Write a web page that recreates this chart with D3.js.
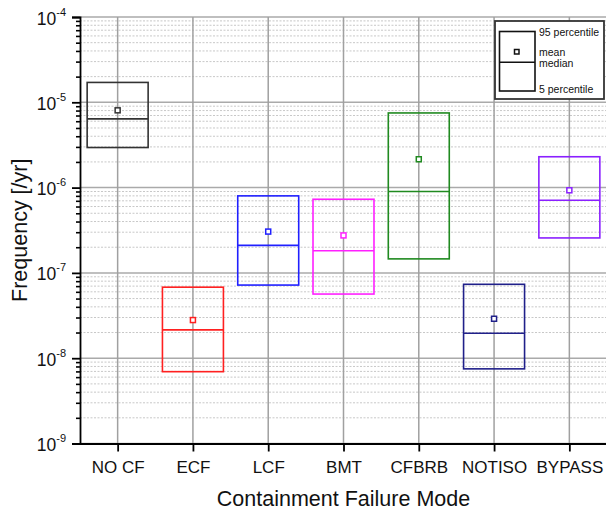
<!DOCTYPE html>
<html>
<head>
<meta charset="utf-8">
<script src="https://d3js.org/d3.v7.min.js"></script>
<style>
  body { margin: 0; background: #fff; }
  svg { display: block; font-family: 'Liberation Sans', Arial, sans-serif; }
</style>
</head>
<body>
<div id="chart"></div>
<script>
var categories = ['NO CF', 'ECF', 'LCF', 'BMT', 'CFBRB', 'NOTISO', 'BYPASS']
var p95 = [1.71e-5, 6.8e-8, 8.0e-7, 7.3e-7, 7.5e-6, 7.35e-8, 2.3e-6]
var means = [8.05e-6, 2.8e-8, 3.05e-7, 2.75e-7, 2.15e-6, 2.9e-8, 9.3e-7]
var medians = [6.4e-6, 2.15e-8, 2.1e-7, 1.82e-7, 9.0e-7, 1.96e-8, 7.1e-7]
var p5 = [2.95e-6, 6.95e-9, 7.2e-8, 5.65e-8, 1.46e-7, 7.5e-9, 2.57e-7]
var colors = ['#333333', '#ff2020', '#2020ff', '#ff20ff', '#208a20', '#20208a', '#8a20ff']
var yExponents = [-9, -8, -7, -6, -5, -4]
var legendLabels = ['95 percentile', 'mean', 'median', '5 percentile']

var W = 606, H = 511
var plotL = 80, plotR = 607, plotT = 17, plotB = 443.5

var svg = d3.select('#chart').append('svg').attr('width', W).attr('height', H)

var x = d3.scalePoint().domain(categories).range([plotL, plotR]).padding(0.5)
var y = d3.scaleLog().domain([1e-9, 1e-4]).range([plotB, plotT])

var majors = yExponents.map(e => Math.pow(10, e))
var minors = []
yExponents.slice(0, -1).forEach(e => {
    for (let k = 2; k < 10; k++) minors.push(k * Math.pow(10, e))
})

// grid
let grid = svg.append('g').attr('id', 'grid')
grid.selectAll('line.minor')
    .data(minors)
    .join('line')
    .attr('class', 'minor')
    .attr('x1', plotL).attr('x2', plotR)
    .attr('y1', d => y(d)).attr('y2', d => y(d))
    .attr('stroke', '#c8c8c8')
    .attr('stroke-width', 1)
    .attr('stroke-dasharray', '2,1.5')
grid.selectAll('line.major')
    .data(majors)
    .join('line')
    .attr('class', 'major')
    .attr('x1', plotL).attr('x2', plotR)
    .attr('y1', d => y(d)).attr('y2', d => y(d))
    .attr('stroke', '#aaaaaa')
    .attr('stroke-width', 1.5)
grid.selectAll('line.vert')
    .data(categories)
    .join('line')
    .attr('class', 'vert')
    .attr('x1', d => x(d)).attr('x2', d => x(d))
    .attr('y1', plotT).attr('y2', plotB)
    .attr('stroke', '#a0a0a0')
    .attr('stroke-width', 1.5)

// boxes
let bw = x.step() * 0.81
let boxes = svg.append('g').attr('id', 'boxes')
let data = categories.map((c, i) => ({c: c, hi: p95[i], lo: p5[i], mean: means[i], med: medians[i], col: colors[i]}))
let g = boxes.selectAll('g')
    .data(data)
    .join('g')
g.append('rect')
    .attr('x', d => x(d.c) - bw / 2)
    .attr('y', d => y(d.hi))
    .attr('width', bw)
    .attr('height', d => y(d.lo) - y(d.hi))
    .attr('fill', 'none')
    .attr('stroke', d => d.col)
    .attr('stroke-width', 1.6)
g.append('line')
    .attr('x1', d => x(d.c) - bw / 2).attr('x2', d => x(d.c) + bw / 2)
    .attr('y1', d => y(d.med)).attr('y2', d => y(d.med))
    .attr('stroke', d => d.col)
    .attr('stroke-width', 1.6)
g.append('rect')
    .attr('x', d => x(d.c) - 2.5)
    .attr('y', d => y(d.mean) - 2.5)
    .attr('width', 5).attr('height', 5)
    .attr('fill', '#fff')
    .attr('stroke', d => d.col)
    .attr('stroke-width', 1.5)

// axes
let yAxis = svg.append('g')
    .attr('transform', `translate(${plotL},0)`)
    .call(d3.axisLeft(y).tickValues(majors).tickSize(8).tickFormat(''))
yAxis.select('.domain').attr('stroke', '#000').attr('stroke-width', 1.8)
yAxis.selectAll('.tick line').attr('stroke', '#000').attr('stroke-width', 1.8)
svg.append('g')
    .attr('transform', `translate(${plotL},0)`)
    .call(d3.axisLeft(y).tickValues(minors).tickSize(4).tickFormat(''))
    .call(a => a.select('.domain').remove())
    .selectAll('.tick line').attr('stroke', '#000').attr('stroke-width', 1.6)

let yl = svg.append('g').attr('id', 'ylabels')
let lab = yl.selectAll('text')
    .data(yExponents)
    .join('text')
    .attr('x', 66)
    .attr('y', d => y(Math.pow(10, d)) + 7.5)
    .attr('text-anchor', 'end')
    .attr('font-size', 17.5)
    .attr('fill', '#111')
lab.append('tspan').text('10')
lab.append('tspan').attr('dy', -9).attr('font-size', 11).text(d => '-' + (-d))

let xAxis = svg.append('g')
    .attr('transform', `translate(0,${plotB})`)
    .call(d3.axisBottom(x).tickSize(8).tickSizeOuter(0))
xAxis.select('.domain').attr('stroke', '#000').attr('stroke-width', 1.8)
xAxis.selectAll('.tick line').attr('stroke', '#000').attr('stroke-width', 1.8)
xAxis.selectAll('.tick text')
    .attr('y', 29)
    .attr('dy', 0)
    .attr('font-size', 17)
    .attr('font-family', "'Liberation Sans', Arial, sans-serif")
    .attr('fill', '#111')

svg.append('text')
    .attr('x', (plotL + plotR) / 2)
    .attr('y', 506)
    .attr('text-anchor', 'middle')
    .attr('font-size', 21.5)
    .attr('fill', '#111')
    .text('Containment Failure Mode')
svg.append('text')
    .attr('transform', `translate(27,${(plotT + plotB) / 2}) rotate(-90)`)
    .attr('text-anchor', 'middle')
    .attr('font-size', 21.5)
    .attr('fill', '#111')
    .text('Frequency [/yr]')

// legend
let lg = svg.append('g').attr('id', 'legend')
lg.append('rect')
    .attr('x', 495).attr('y', 21).attr('width', 109).attr('height', 78)
    .attr('fill', '#fff').attr('stroke', '#333').attr('stroke-width', 1.8)
lg.append('rect')
    .attr('x', 499.5).attr('y', 31.5).attr('width', 35.5).attr('height', 59.5)
    .attr('fill', 'none').attr('stroke', '#111').attr('stroke-width', 1.6)
lg.append('line')
    .attr('x1', 499.5).attr('x2', 535).attr('y1', 62.3).attr('y2', 62.3)
    .attr('stroke', '#111').attr('stroke-width', 1.6)
lg.append('rect')
    .attr('x', 514.5).attr('y', 49.5).attr('width', 4.5).attr('height', 4.5)
    .attr('fill', '#fff').attr('stroke', '#111').attr('stroke-width', 1.5)
let ly = [32.3, 52.7, 63.3, 89.3]
lg.selectAll('text')
    .data(legendLabels)
    .join('text')
    .attr('x', 539)
    .attr('y', (d, i) => ly[i] + 3.7)
    .attr('font-size', 10.5)
    .attr('fill', '#111')
    .text(d => d)
</script>
</body>
</html>
